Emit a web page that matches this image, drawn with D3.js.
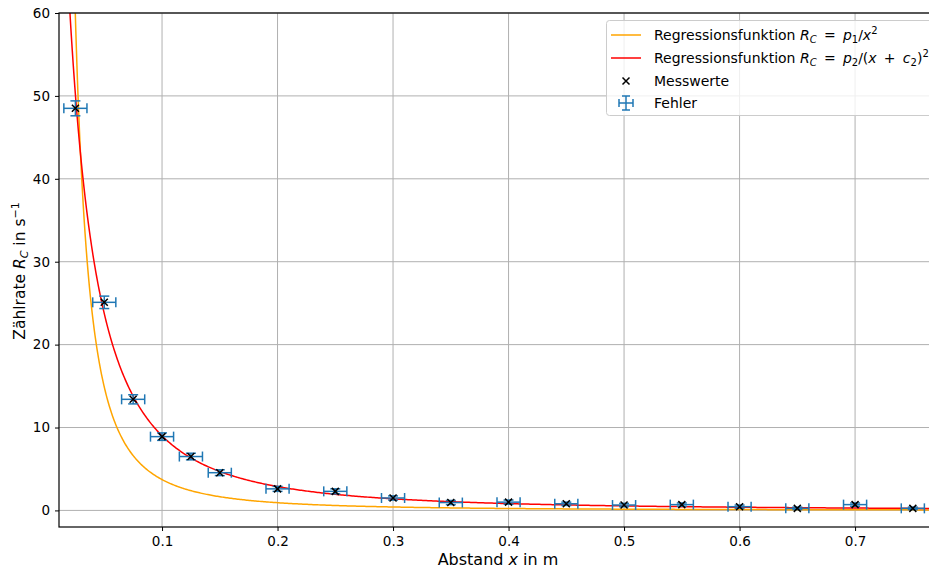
<!DOCTYPE html>
<html>
<head>
<meta charset="utf-8">
<script src="https://cdnjs.cloudflare.com/ajax/libs/d3/7.8.5/d3.min.js"></script>
<style>
  body { margin: 0; background: #fff; }
  svg { font-family: "DejaVu Sans", sans-serif; }
</style>
</head>
<body>
<div id="chart"></div>
<script>
// Messwerte
var abstand = [0.025, 0.05, 0.075, 0.1, 0.125, 0.15, 0.2, 0.25, 0.3, 0.35, 0.4, 0.45, 0.5, 0.55, 0.6, 0.65, 0.7, 0.75];
var rate    = [48.5, 25.1, 13.4, 8.9, 6.5, 4.55, 2.6, 2.3, 1.5, 0.95, 1.0, 0.8, 0.65, 0.7, 0.45, 0.25, 0.7, 0.25];
var xFehler = [0.01, 0.01, 0.01, 0.01, 0.01, 0.01, 0.01, 0.01, 0.01, 0.01, 0.01, 0.01, 0.01, 0.01, 0.01, 0.01, 0.01, 0.01];
var yFehler = [0.9, 0.75, 0.55, 0.45, 0.4, 0.35, 0.3, 0.3, 0.25, 0.25, 0.25, 0.2, 0.2, 0.2, 0.2, 0.15, 0.2, 0.15];

// Fitparameter
var p1 = 0.0372;
var p2 = 0.1523, c2 = 0.0301;

var xTicks = [0.1, 0.2, 0.3, 0.4, 0.5, 0.6, 0.7];
var yTicks = [0, 10, 20, 30, 40, 50, 60];

var WIDTH = 929, HEIGHT = 572;
var LEFT = 59, RIGHT = 929, TOP = 13, BOTTOM = 527;

var COLORS = {
  ORANGE: '#ffa500',
  RED:    '#ff0000',
  BLUE:   '#1f77b4',
  GRID:   '#b0b0b0'
};

var svg = d3.select('#chart').append('svg')
  .attr('width', WIDTH)
  .attr('height', HEIGHT);

var x = d3.scaleLinear().domain([0.0108, 0.764]).range([LEFT, RIGHT]);
var y = d3.scaleLinear().domain([-2, 60]).range([BOTTOM, TOP]);

svg.append('clipPath').attr('id', 'clip')
  .append('rect')
  .attr('x', LEFT).attr('y', TOP)
  .attr('width', RIGHT - LEFT).attr('height', BOTTOM - TOP);

// Grid
var grid = svg.append('g');
grid.selectAll('.gx').data(xTicks).enter().append('line')
  .attr('x1', d => x(d)).attr('x2', d => x(d))
  .attr('y1', TOP).attr('y2', BOTTOM)
  .attr('stroke', COLORS.GRID).attr('stroke-width', 1);
grid.selectAll('.gy').data(yTicks).enter().append('line')
  .attr('x1', LEFT).attr('x2', RIGHT)
  .attr('y1', d => y(d)).attr('y2', d => y(d))
  .attr('stroke', COLORS.GRID).attr('stroke-width', 1);

// Regression curves
var plot = svg.append('g').attr('clip-path', 'url(#clip)');
var xs = d3.range(0, 601).map(i => 0.0108 + (0.764 - 0.0108) * Math.pow(i / 600, 1.6));
var line = d3.line().x(d => x(d[0])).y(d => y(Math.min(d[1], 80)));

plot.append('path')
  .datum(xs.map(v => [v, p1 / (v * v)]))
  .attr('d', line)
  .attr('fill', 'none')
  .attr('stroke', COLORS.ORANGE)
  .attr('stroke-width', 1.5);

plot.append('path')
  .datum(xs.map(v => [v, p2 / ((v + c2) * (v + c2))]))
  .attr('d', line)
  .attr('fill', 'none')
  .attr('stroke', COLORS.RED)
  .attr('stroke-width', 1.5);

// Error bars
var pts = abstand.map((v, i) => ({x: v, y: rate[i], ex: xFehler[i], ey: yFehler[i]}));
var eb = plot.append('g').attr('stroke', COLORS.BLUE).attr('stroke-width', 1.5).attr('fill', 'none');
var cap = 5;
pts.forEach(function(d) {
  var cx = x(d.x), cy = y(d.y);
  var x0 = x(d.x - d.ex), x1 = x(d.x + d.ex);
  var y0 = y(d.y - d.ey), y1 = y(d.y + d.ey);
  eb.append('line').attr('x1', x0).attr('x2', x1).attr('y1', cy).attr('y2', cy);
  eb.append('line').attr('x1', cx).attr('x2', cx).attr('y1', y0).attr('y2', y1);
  eb.append('line').attr('x1', x0).attr('x2', x0).attr('y1', cy - cap).attr('y2', cy + cap);
  eb.append('line').attr('x1', x1).attr('x2', x1).attr('y1', cy - cap).attr('y2', cy + cap);
  eb.append('line').attr('x1', cx - cap).attr('x2', cx + cap).attr('y1', y0).attr('y2', y0);
  eb.append('line').attr('x1', cx - cap).attr('x2', cx + cap).attr('y1', y1).attr('y2', y1);
});

// Markers
var m = 3.5;
var marks = plot.append('g').attr('stroke', '#000').attr('stroke-width', 1.5);
pts.forEach(function(d) {
  var cx = x(d.x), cy = y(d.y);
  marks.append('path').attr('d', 'M' + (cx - m) + ',' + (cy - m) + 'L' + (cx + m) + ',' + (cy + m) +
    'M' + (cx - m) + ',' + (cy + m) + 'L' + (cx + m) + ',' + (cy - m));
});

// Axes
var xAxis = svg.append('g')
  .attr('transform', 'translate(0,' + BOTTOM + ')')
  .call(d3.axisBottom(x).tickValues(xTicks).tickFormat(d3.format('.1f')).tickSizeOuter(0).tickSize(4).tickPadding(5));
var yAxis = svg.append('g')
  .attr('transform', 'translate(' + LEFT + ',0)')
  .call(d3.axisLeft(y).tickValues(yTicks).tickFormat(d3.format('d')).tickSizeOuter(0).tickSize(4).tickPadding(5));
[xAxis, yAxis].forEach(function(a) {
  a.attr('font-family', '"DejaVu Sans", sans-serif').attr('font-size', 13);
  a.select('.domain').remove();
  a.selectAll('.tick line').attr('stroke', '#000').attr('stroke-width', 1);
  a.selectAll('.tick text').attr('fill', '#000').attr('font-size', 13.5);
});

// Spines
svg.append('rect')
  .attr('x', LEFT).attr('y', TOP)
  .attr('width', RIGHT - LEFT + 2).attr('height', BOTTOM - TOP)
  .attr('fill', 'none').attr('stroke', '#000').attr('stroke-width', 1.2);

// Axis labels
var xl = svg.append('text')
  .attr('x', 498).attr('y', 565)
  .attr('text-anchor', 'middle').attr('font-size', 16);
xl.append('tspan').text('Abstand ');
xl.append('tspan').attr('font-style', 'italic').text('x');
xl.append('tspan').text(' in m');

var yl = svg.append('text')
  .attr('transform', 'translate(25,' + ((TOP + BOTTOM) / 2 + 1) + ') rotate(-90)')
  .attr('text-anchor', 'middle').attr('font-size', 15.5);
yl.append('tspan').text('Zählrate ');
yl.append('tspan').attr('font-style', 'italic').text('R');
yl.append('tspan').attr('font-style', 'italic').attr('font-size', 11).attr('dy', 3).text('C');
yl.append('tspan').attr('dy', -3).text(' in s');
yl.append('tspan').attr('font-size', 11).attr('dy', -6).text('−1');

// Legend
var lg = svg.append('g');
lg.append('rect')
  .attr('x', 606.5).attr('y', 20.5).attr('width', 330).attr('height', 95)
  .attr('rx', 3)
  .attr('fill', 'rgba(255,255,255,0.8)').attr('stroke', '#cccccc').attr('stroke-width', 1);

var FS = 14, SUB = 10;
function addEntry(yPos, parts) {
  var t = lg.append('text').attr('x', 654).attr('y', yPos).attr('font-size', FS)
    .attr('xml:space', 'preserve');
  parts.forEach(function(p) {
    var s = t.append('tspan').text(p.t);
    if (p.i) s.attr('font-style', 'italic');
    if (p.sub) s.attr('font-size', SUB);
    if (p.dy) s.attr('dy', p.dy);
  });
}

lg.append('line').attr('x1', 611).attr('x2', 641).attr('y1', 35).attr('y2', 35)
  .attr('stroke', COLORS.ORANGE).attr('stroke-width', 1.5);
addEntry(40, [
  {t: 'Regressionsfunktion '}, {t: 'R', i: true}, {t: 'C', i: true, sub: true, dy: 3},
  {t: '\u2009 = \u2009', dy: -3}, {t: 'p', i: true}, {t: '1', sub: true, dy: 3}, {t: '/', dy: -3},
  {t: 'x', i: true}, {t: '2', sub: true, dy: -6}
]);

lg.append('line').attr('x1', 611).attr('x2', 641).attr('y1', 58).attr('y2', 58)
  .attr('stroke', COLORS.RED).attr('stroke-width', 1.5);
addEntry(63, [
  {t: 'Regressionsfunktion '}, {t: 'R', i: true}, {t: 'C', i: true, sub: true, dy: 3},
  {t: '\u2009 = \u2009', dy: -3}, {t: 'p', i: true}, {t: '2', sub: true, dy: 3}, {t: '/(', dy: -3},
  {t: 'x', i: true}, {t: '\u2009 + \u2009'}, {t: 'c', i: true}, {t: '2', sub: true, dy: 3},
  {t: ')', dy: -3}, {t: '2', sub: true, dy: -6}
]);

lg.append('path')
  .attr('d', 'M622.5,77.5L629.5,84.5M622.5,84.5L629.5,77.5')
  .attr('stroke', '#000').attr('stroke-width', 1.5);
addEntry(86, [{t: 'Messwerte'}]);

var fh = lg.append('g').attr('stroke', COLORS.BLUE).attr('stroke-width', 1.5);
fh.append('line').attr('x1', 619).attr('x2', 633).attr('y1', 103).attr('y2', 103);
fh.append('line').attr('x1', 626).attr('x2', 626).attr('y1', 96).attr('y2', 110);
fh.append('line').attr('x1', 619).attr('x2', 619).attr('y1', 99).attr('y2', 107);
fh.append('line').attr('x1', 633).attr('x2', 633).attr('y1', 99).attr('y2', 107);
fh.append('line').attr('x1', 622).attr('x2', 630).attr('y1', 96).attr('y2', 96);
fh.append('line').attr('x1', 622).attr('x2', 630).attr('y1', 110).attr('y2', 110);
addEntry(108, [{t: 'Fehler'}]);
</script>
</body>
</html>
